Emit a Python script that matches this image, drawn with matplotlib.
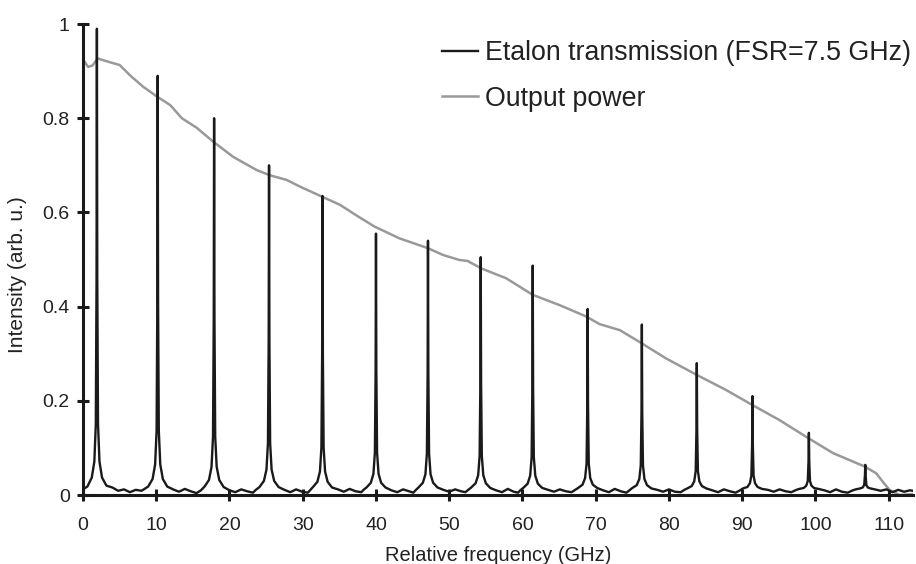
import matplotlib
matplotlib.use("Agg")
import matplotlib.pyplot as plt
from matplotlib.ticker import FormatStrFormatter

plt.rcParams['font.family'] = ['Liberation Sans', 'DejaVu Sans']

# etalon transmission trace (GHz, arb. u.)
etalon_freq = [
    0.0, 0.3, 0.6, 1.2, 1.55, 1.75, 1.85, 1.9, 1.95, 2.05, 2.25, 2.6, 3.2,
    4.0, 4.8, 5.6, 6.4, 7.2, 8.0,
    8.9, 9.5, 9.85, 10.05, 10.15, 10.2, 10.25, 10.35, 10.55, 10.9, 11.5,
    12.3, 13.1, 13.9, 14.7, 15.5, 16.1,
    16.6, 17.2, 17.55, 17.75, 17.85, 17.9, 17.95, 18.05, 18.25, 18.6, 19.2,
    20.0, 20.8, 21.6, 22.4, 23.2, 23.6,
    24.1, 24.7, 25.05, 25.25, 25.35, 25.4, 25.45, 25.55, 25.75, 26.1, 26.7,
    27.5, 28.3, 29.1, 29.9, 30.7, 31.0,
    31.4, 32.0, 32.35, 32.55, 32.65, 32.7, 32.75, 32.85, 33.05, 33.4, 34.0,
    34.8, 35.6, 36.4, 37.2, 38.0, 38.3,
    38.7, 39.3, 39.65, 39.85, 39.95, 40.0, 40.05, 40.15, 40.35, 40.7, 41.3,
    42.1, 42.9, 43.7, 44.5, 45.1, 45.4,
    45.8, 46.4, 46.75, 46.95, 47.05, 47.1, 47.15, 47.25, 47.45, 47.8, 48.4,
    49.2, 50.0, 50.8, 51.6, 52.2, 52.6,
    53.0, 53.6, 53.95, 54.15, 54.25, 54.3, 54.35, 54.45, 54.65, 55.0, 55.6,
    56.4, 57.2, 58.0, 58.8, 59.4, 59.7,
    60.1, 60.7, 61.05, 61.25, 61.35, 61.4, 61.45, 61.55, 61.75, 62.1, 62.7,
    63.5, 64.3, 65.1, 65.9, 66.7, 67.2,
    67.6, 68.2, 68.55, 68.75, 68.85, 68.9, 68.95, 69.05, 69.25, 69.6, 70.2,
    71.0, 71.8, 72.6, 73.4, 74.2, 74.6,
    75.0, 75.6, 75.95, 76.15, 76.25, 76.3, 76.35, 76.45, 76.65, 77.0, 77.6,
    78.4, 79.2, 80.0, 80.8, 81.6, 82.1,
    82.5, 83.1, 83.45, 83.65, 83.75, 83.8, 83.85, 83.95, 84.15, 84.5, 85.1,
    85.9, 86.7, 87.5, 88.3, 89.1, 89.7,
    90.1, 90.7, 91.05, 91.25, 91.35, 91.4, 91.45, 91.55, 91.75, 92.1, 92.7,
    93.5, 94.3, 95.1, 95.9, 96.7, 97.4,
    97.8, 98.4, 98.75, 98.95, 99.05, 99.1, 99.15, 99.25, 99.45, 99.8, 100.4,
    101.2, 102.0, 102.8, 103.6, 104.4, 105.1,
    105.5, 106.1, 106.45, 106.65, 106.75, 106.8, 106.85, 106.95, 107.15, 107.5, 108.1,
    108.9, 109.7, 110.5, 111.3, 112.1, 112.9, 113.3,
]
etalon_int = [
    0.012, 0.015, 0.018, 0.037, 0.071, 0.151, 0.458, 0.99, 0.458, 0.151, 0.071, 0.037, 0.02,
    0.016, 0.009, 0.012, 0.006, 0.011, 0.009,
    0.018, 0.034, 0.065, 0.137, 0.413, 0.89, 0.413, 0.137, 0.065, 0.034, 0.018,
    0.012, 0.007, 0.013, 0.008, 0.004, 0.01,
    0.018, 0.032, 0.06, 0.124, 0.372, 0.80, 0.372, 0.124, 0.06, 0.032, 0.017,
    0.01, 0.006, 0.012, 0.008, 0.005, 0.011,
    0.017, 0.03, 0.054, 0.11, 0.327, 0.70, 0.327, 0.11, 0.054, 0.03, 0.017,
    0.011, 0.006, 0.012, 0.007, 0.005, 0.01,
    0.017, 0.028, 0.05, 0.101, 0.298, 0.635, 0.298, 0.101, 0.05, 0.028, 0.016,
    0.012, 0.007, 0.013, 0.008, 0.006, 0.011,
    0.016, 0.026, 0.045, 0.09, 0.262, 0.555, 0.262, 0.09, 0.045, 0.026, 0.016,
    0.01, 0.006, 0.012, 0.008, 0.005, 0.01,
    0.016, 0.026, 0.044, 0.088, 0.255, 0.54, 0.255, 0.088, 0.044, 0.026, 0.016,
    0.011, 0.007, 0.012, 0.008, 0.006, 0.011,
    0.016, 0.025, 0.042, 0.083, 0.239, 0.505, 0.239, 0.083, 0.042, 0.025, 0.015,
    0.01, 0.006, 0.013, 0.007, 0.005, 0.01,
    0.015, 0.024, 0.041, 0.08, 0.231, 0.487, 0.231, 0.08, 0.041, 0.024, 0.015,
    0.011, 0.007, 0.012, 0.008, 0.006, 0.011,
    0.015, 0.022, 0.036, 0.067, 0.19, 0.395, 0.19, 0.067, 0.036, 0.022, 0.015,
    0.01, 0.006, 0.013, 0.008, 0.005, 0.01,
    0.015, 0.021, 0.034, 0.063, 0.175, 0.362, 0.175, 0.063, 0.034, 0.021, 0.014,
    0.011, 0.007, 0.012, 0.007, 0.006, 0.011,
    0.014, 0.019, 0.029, 0.051, 0.138, 0.28, 0.138, 0.051, 0.029, 0.019, 0.014,
    0.01, 0.006, 0.012, 0.008, 0.005, 0.01,
    0.014, 0.017, 0.025, 0.041, 0.107, 0.21, 0.107, 0.041, 0.025, 0.017, 0.013,
    0.011, 0.007, 0.012, 0.008, 0.006, 0.011,
    0.013, 0.015, 0.02, 0.03, 0.071, 0.132, 0.071, 0.03, 0.02, 0.015, 0.013,
    0.01, 0.006, 0.012, 0.007, 0.005, 0.01,
    0.012, 0.014, 0.016, 0.021, 0.041, 0.064, 0.041, 0.021, 0.016, 0.014, 0.012,
    0.009, 0.012, 0.006, 0.011, 0.007, 0.01, 0.009,
]

# output power trace
power_freq = [0.0, 0.7, 1.3, 2.0, 3.0, 4.1, 5.0, 6.5, 8.2, 10.1, 11.9, 13.5,
              15.5, 17.8, 20.5, 23.7, 25.5, 27.8, 29.6, 32.7, 35.1, 37.6, 39.8,
              43.2, 47.1, 49.1, 51.4, 52.5, 54.4, 57.8, 61.4, 65.1, 68.7, 70.5,
              73.3, 76.3, 79.6, 83.8, 87.8, 91.4, 95.1, 99.1, 102.4, 106.8,
              108.3, 109.2, 110.1, 111.5, 113.3]
power_int = [0.925, 0.909, 0.912, 0.927, 0.922, 0.917, 0.913, 0.89, 0.867,
             0.846, 0.828, 0.80, 0.78, 0.75, 0.718, 0.69, 0.679, 0.669, 0.655,
             0.633, 0.616, 0.591, 0.57, 0.545, 0.524, 0.51, 0.499, 0.497,
             0.481, 0.46, 0.425, 0.403, 0.379, 0.363, 0.35, 0.322, 0.29, 0.255,
             0.223, 0.191, 0.159, 0.12, 0.089, 0.06, 0.046, 0.028, 0.011,
             0.0, 0.002]

x_ticks = [0, 10, 20, 30, 40, 50, 60, 70, 80, 90, 100, 110]
y_ticks = [0, 0.2, 0.4, 0.6, 0.8, 1]

fig = plt.figure(figsize=(9.16, 5.64), dpi=100)
ax = fig.add_axes([0.0906, 0.1223, 0.906, 0.8351])

ax.plot(etalon_freq, etalon_int, color='#1a1a1a', lw=1.7,
        label='Etalon transmission (FSR=7.5 GHz)', zorder=3)
ax.plot(power_freq, power_int, color='#999999', lw=1.8,
        label='Output power', zorder=2)

ax.set_xlim(0, 113.3)
ax.set_ylim(0, 1)
ax.set_xticks(x_ticks)
ax.set_yticks(y_ticks)
ax.yaxis.set_major_formatter(FormatStrFormatter('%g'))

for s in ['top', 'right']:
    ax.spines[s].set_visible(False)
for s in ['left', 'bottom']:
    ax.spines[s].set_linewidth(2.2)
    ax.spines[s].set_color('#1a1a1a')
ax.tick_params(direction='inout', length=9, width=2.2, color='#1a1a1a',
               labelsize=14, labelcolor='#222222')
ax.tick_params(axis='y', pad=5)
ax.tick_params(axis='x', pad=11)

ax.set_xlabel('Relative frequency (GHz)', fontsize=14.5, color='#222222', labelpad=9)
ax.set_ylabel('Intensity (arb. u.)', fontsize=15, color='#222222')
ax.yaxis.set_label_coords(-0.068, 0.467)

leg = fig.legend(loc='upper right', bbox_to_anchor=(911 / 916, 1 - 40 / 564),
                 frameon=False, fontsize=19.3, handlelength=1.35,
                 handletextpad=0.25, labelspacing=0.74, borderpad=0.0,
                 borderaxespad=0.0)
for t in leg.get_texts():
    t.set_color('#222222')

fig.savefig('out.png', dpi=100)
